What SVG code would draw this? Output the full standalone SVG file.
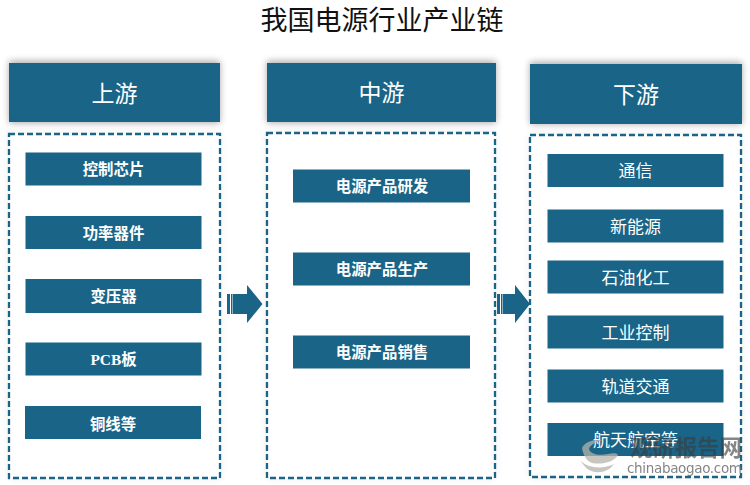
<svg xmlns="http://www.w3.org/2000/svg" width="750" height="485" viewBox="0 0 750 485">
<defs>
<filter id="hs" x="-10%" y="-30%" width="120%" height="160%"><feGaussianBlur stdDeviation="3.5"/></filter>
<filter id="ps" x="-10%" y="-10%" width="120%" height="120%"><feGaussianBlur stdDeviation="4"/></filter>
</defs>
<style>
text{font-family:"Liberation Serif","Noto Sans CJK SC",serif;text-anchor:middle;fill:#fff}
.t{fill:#111;font-size:27px}
.h{font-size:23px}
.b{font-size:15.400px;font-weight:700}
.r{font-size:17px;font-weight:400}
.hd{fill:#1a6587}
.hs{fill:#000;opacity:.33;filter:url(#hs)}
.ps{fill:#000;opacity:.09;filter:url(#ps)}
.p{fill:#fff;stroke:#1a6587;stroke-width:2.300;stroke-dasharray:6 3}
.box{fill:#1a6587}
</style>
<rect width="750" height="485" fill="#fff"/>
<text class="t" x="382" y="30">我国电源行业产业链</text>

<g id="upstream">
<rect class="hs" x="9" y="61" width="211" height="62"/>
<rect class="hd" x="9" y="63" width="211" height="59"/>
<text class="h" x="114.500" y="102">上游</text>
<rect class="ps" x="9" y="134" width="211" height="344"/>
<rect class="p" x="9" y="134" width="211" height="344"/>
</g>
<g id="midstream">
<rect class="hs" x="267" y="61" width="229" height="62"/>
<rect class="hd" x="267" y="63" width="229" height="59"/>
<text class="h" x="381.500" y="101">中游</text>
<rect class="ps" x="267" y="133" width="228" height="345"/>
<rect class="p" x="267" y="133" width="228" height="345"/>
</g>
<g id="downstream">
<rect class="hs" x="530" y="62" width="212" height="62"/>
<rect class="hd" x="530" y="64" width="212" height="60"/>
<text class="h" x="636" y="103">下游</text>
<rect class="ps" x="530" y="135" width="211" height="342"/>
<rect class="p" x="530" y="135" width="211" height="342"/>
</g>

<g id="n-kongzhi"><rect class="box" x="25.500" y="152.500" width="176" height="33"/><text class="b" x="113.500" y="175">控制芯片</text></g>
<g id="n-gonglv"><rect class="box" x="25.500" y="216" width="176" height="33"/><text class="b" x="113.500" y="238.500">功率器件</text></g>
<g id="n-bianya"><rect class="box" x="25.500" y="279" width="176" height="34"/><text class="b" x="113.500" y="302">变压器</text></g>
<g id="n-pcb"><rect class="box" x="25.500" y="342.500" width="176" height="33"/><text class="b" x="113.500" y="365">PCB板</text></g>
<g id="n-tongxian"><rect class="box" x="25" y="406" width="176" height="33"/><text class="b" x="113" y="429.500">铜线等</text></g>

<g id="n-yanfa"><rect class="box" x="293" y="169.500" width="177" height="33"/><text class="b" x="382" y="192">电源产品研发</text></g>
<g id="n-shengchan"><rect class="box" x="293" y="252.500" width="177" height="33"/><text class="b" x="382" y="275">电源产品生产</text></g>
<g id="n-xiaoshou"><rect class="box" x="293" y="335.500" width="177" height="33"/><text class="b" x="382" y="358">电源产品销售</text></g>

<g id="n-tongxin"><rect class="box" x="547.500" y="154" width="176" height="33"/><text class="b r" x="635.500" y="177">通信</text></g>
<g id="n-xinneng"><rect class="box" x="547.500" y="209.500" width="176" height="33"/><text class="b r" x="635.500" y="232.500">新能源</text></g>
<g id="n-shiyou"><rect class="box" x="547.500" y="260.500" width="176" height="33"/><text class="b r" x="635.500" y="283.500">石油化工</text></g>
<g id="n-gongye"><rect class="box" x="547.500" y="315.500" width="176" height="33"/><text class="b r" x="635.500" y="338.500">工业控制</text></g>
<g id="n-guidao"><rect class="box" x="547.500" y="369.500" width="176" height="33"/><text class="b r" x="635.500" y="392.500">轨道交通</text></g>
<g id="n-hangtian"><rect class="box" x="547.500" y="423" width="176" height="33"/><text class="b r" x="635.500" y="446">航天航空等</text></g>

<g id="connectors" fill="#1a6587">
<path d="M227 294h3v20h-3zM231 294h1.500v20h-1.500zM233 294h14v-9l15.500 19-15.500 19v-9h-14z"/>
<path d="M497 294h3v20h-3zM501 294h1.500v20h-1.500zM503 294h12v-9l15 19-15 19v-9h-12z"/>
</g>

<g id="watermark">
<path d="M582 448c3-6 11-9 21-8-8 2-13 5-14 9 1 5 10 7 19 5 5-1 9-1 10 1-4 7-16 10-26 8-6-2-9-9-10-15z" fill="#b5b3ac" opacity=".75"/>
<path d="M581 461c8 8 23 8 33 3-4 6-11 9-19 8-6-1-11-5-14-11z" fill="#b5b3ac" opacity=".75"/>
<text x="686" y="456" font-size="22.500" font-weight="700" textLength="112" style="font-family:'Noto Sans CJK SC',sans-serif;fill:#3c3c3c;opacity:.62">观研报告网</text>
<text x="684.500" y="473" font-size="13.500" textLength="115" style="font-family:'DejaVu Sans',sans-serif;fill:#777;opacity:.9">chinabaogao.com</text>
</g>
</svg>
